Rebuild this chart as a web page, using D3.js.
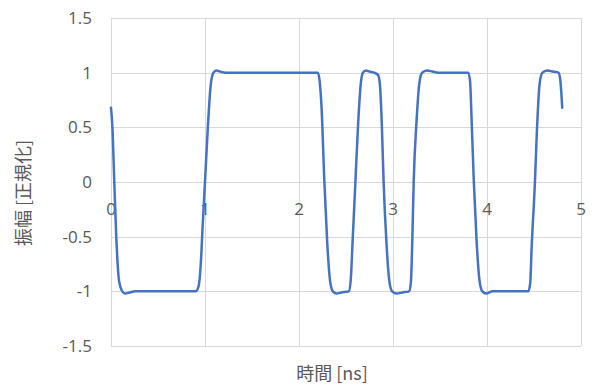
<!DOCTYPE html>
<html>
<head>
<meta charset="utf-8">
<script src="https://cdn.jsdelivr.net/npm/d3@7"></script>
<style>
  html, body { margin: 0; padding: 0; background: #ffffff; }
  svg { display: block; }
</style>
</head>
<body>
<svg id="chart" width="592" height="391"></svg>
<script>
// Sampled waveform: time in ns, normalized amplitude
const times = [
  0.00, 0.015, 0.035, 0.056, 0.085, 0.12, 0.15, 0.20, 0.26, 0.50, 0.90,
  0.93, 0.955, 0.975, 1.00, 1.03, 1.06, 1.09, 1.12, 1.16, 1.22, 1.60, 2.00, 2.20,
  2.22, 2.24, 2.27, 2.30, 2.33, 2.36, 2.40, 2.45, 2.53,
  2.55, 2.57, 2.60, 2.63, 2.66, 2.68, 2.71, 2.75, 2.80, 2.84,
  2.86, 2.88, 2.90, 2.93, 2.96, 2.99, 3.04, 3.10, 3.17,
  3.19, 3.205, 3.22, 3.25, 3.28, 3.31, 3.36, 3.42, 3.48, 3.65, 3.80,
  3.82, 3.835, 3.86, 3.89, 3.92, 3.95, 3.99, 4.06, 4.25, 4.44,
  4.46, 4.475, 4.51, 4.53, 4.56, 4.59, 4.64, 4.70, 4.76, 4.78, 4.80
];
const amplitude = [
  0.68, 0.50, 0.00, -0.50, -0.90, -1.00, -1.02, -1.01, -1.00, -1.00, -1.00,
  -0.96, -0.75, -0.40, 0.00, 0.50, 0.88, 1.00, 1.02, 1.01, 1.00, 1.00, 1.00, 1.00,
  0.92, 0.68, 0.00, -0.55, -0.90, -1.00, -1.02, -1.01, -1.00,
  -0.90, -0.55, 0.00, 0.55, 0.92, 1.00, 1.02, 1.01, 1.00, 0.98,
  0.90, 0.55, 0.00, -0.55, -0.90, -1.00, -1.02, -1.01, -1.00,
  -0.92, -0.55, 0.00, 0.55, 0.90, 1.00, 1.02, 1.01, 1.00, 1.00, 1.00,
  0.92, 0.60, 0.00, -0.55, -0.90, -1.00, -1.02, -1.00, -1.00, -1.00,
  -0.92, -0.60, 0.00, 0.45, 0.90, 1.00, 1.02, 1.01, 1.00, 0.93, 0.68
];
const xTicks = [0, 1, 2, 3, 4, 5];
const yTicks = [-1.5, -1, -0.5, 0, 0.5, 1, 1.5];
const xTitle = "時間 [ns]";
const yTitle = "振幅 [正規化]";

const svg = d3.select("#chart");
const plot = { left: 111, right: 581, top: 18, bottom: 346 };

const x = d3.scaleLinear().domain([0, 5]).range([plot.left, plot.right]);
const y = d3.scaleLinear().domain([-1.5, 1.5]).range([plot.bottom, plot.top]);

const textColor = "#595959";
const gridColor = "#d9d9d9";
const numFont = "'Open Sans', 'Noto Sans', sans-serif";
const cjkFont = "'Noto Sans CJK JP', 'Noto Sans', sans-serif";

// Gridlines
svg.append("g")
  .selectAll("line.h")
  .data(yTicks)
  .join("line")
  .attr("x1", plot.left).attr("x2", plot.right)
  .attr("y1", d => Math.round(y(d)) + 0.5).attr("y2", d => Math.round(y(d)) + 0.5)
  .attr("stroke", gridColor).attr("stroke-width", 1);

svg.append("g")
  .selectAll("line.v")
  .data(xTicks)
  .join("line")
  .attr("x1", d => Math.round(x(d)) + 0.5).attr("x2", d => Math.round(x(d)) + 0.5)
  .attr("y1", plot.top).attr("y2", plot.bottom)
  .attr("stroke", gridColor).attr("stroke-width", 1);

// Y tick labels
svg.append("g")
  .selectAll("text")
  .data(yTicks)
  .join("text")
  .attr("x", 92)
  .attr("y", d => y(d))
  .attr("dy", "0.35em")
  .attr("text-anchor", "end")
  .attr("fill", textColor)
  .style("font-family", numFont)
  .style("font-size", "17px")
  .text(d => d3.format("")(d).replace("−", "-"));

// X tick labels sit just below the zero line
svg.append("g")
  .selectAll("text")
  .data(xTicks)
  .join("text")
  .attr("x", d => x(d))
  .attr("y", y(0) + 27)
  .attr("dy", "0.35em")
  .attr("text-anchor", "middle")
  .attr("fill", textColor)
  .style("font-family", numFont)
  .style("font-size", "17px")
  .text(d => d);

// Waveform
const data = times.map((t, i) => ({ t, v: amplitude[i] }));
const line = d3.line()
  .x(d => x(d.t))
  .y(d => y(d.v))
  .curve(d3.curveMonotoneX);

svg.append("path")
  .datum(data)
  .attr("d", line)
  .attr("fill", "none")
  .attr("stroke", "#4472C4")
  .attr("stroke-width", 2.5)
  .attr("stroke-linejoin", "round")
  .attr("stroke-linecap", "round");

// Axis titles
svg.append("text")
  .attr("x", 332)
  .attr("y", 380)
  .attr("text-anchor", "middle")
  .attr("fill", textColor)
  .style("font-family", cjkFont)
  .style("font-size", "18px")
  .text(xTitle);

svg.append("text")
  .attr("transform", "translate(30,193) rotate(-90)")
  .attr("text-anchor", "middle")
  .attr("fill", textColor)
  .style("font-family", cjkFont)
  .style("font-size", "18px")
  .text(yTitle);
</script>
</body>
</html>
